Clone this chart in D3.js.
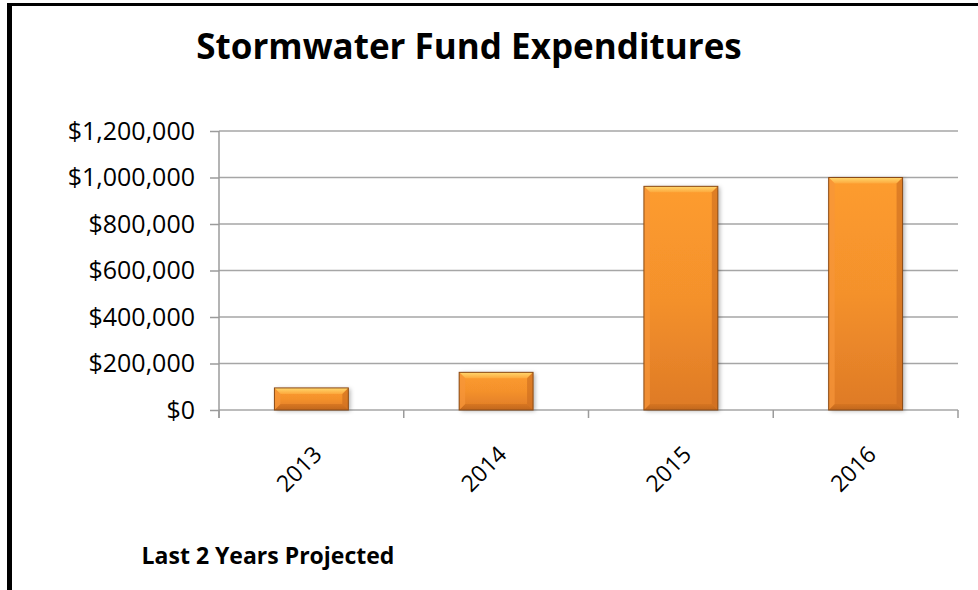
<!DOCTYPE html>
<html>
<head>
<meta charset="utf-8">
<script src="https://cdn.jsdelivr.net/npm/d3@7"></script>
<style>
  html, body { margin: 0; padding: 0; background: #fff; }
  svg { display: block; }
</style>
</head>
<body>
<svg id="chart" width="978" height="590"></svg>
<script>
// Stormwater fund expenditures by year (last two years projected)
const years = ["2013", "2014", "2015", "2016"];
const expenditures = [95000, 162000, 962000, 1000000];
const yTicks = [0, 200000, 400000, 600000, 800000, 1000000, 1200000];
const titleText = "Stormwater Fund Expenditures";
const noteText = "Last 2 Years Projected";

const svg = d3.select("#chart");
const W = 978, H = 590;
const plot = { left: 219, right: 958, top: 131, bottom: 410 };
const font = "'Open Sans', 'Noto Sans', sans-serif";

// Outer frame: thick left and top rules
svg.append("rect").attr("x", 7).attr("y", 3).attr("width", 5).attr("height", H - 3).attr("fill", "#000");
svg.append("rect").attr("x", 7).attr("y", 3).attr("width", W - 7).attr("height", 3).attr("fill", "#000");

const x = d3.scaleBand().domain(years).range([plot.left, plot.right]).paddingInner(0.6).paddingOuter(0.3);
const y = d3.scaleLinear().domain([0, 1200000]).range([plot.bottom, plot.top]);
const money = v => "$" + d3.format(",")(v);

const defs = svg.append("defs");
const grad = (id, stops) => {
  const g = defs.append("linearGradient").attr("id", id).attr("x1", 0).attr("y1", 0).attr("x2", 0).attr("y2", 1);
  stops.forEach(([o, c, a]) => g.append("stop").attr("offset", o).attr("stop-color", c).attr("stop-opacity", a == null ? 1 : a));
};
grad("barBody", [[0, "#FD9C2E"], [0.5, "#F4912C"], [1, "#DE7A26"]]);
grad("bevelTop", [[0, "#FFD86E"], [1, "#FDA83C"]]);
grad("bevelBottom", [[0, "#D4731F"], [1, "#B9621C"]]);
const shadow = defs.append("filter").attr("id", "barShadow").attr("x", "-20%").attr("y", "-20%").attr("width", "140%").attr("height", "140%");
shadow.append("feDropShadow").attr("dx", 2).attr("dy", 1).attr("stdDeviation", 2).attr("flood-color", "#000").attr("flood-opacity", 0.3);

// Gridlines and value axis
const yAxis = d3.axisLeft(y).tickValues(yTicks).tickFormat(money).tickSize(9).tickPadding(15);
const yg = svg.append("g").attr("transform", `translate(${plot.left},0)`).call(yAxis);
yg.select(".domain").remove();
yg.selectAll(".tick line").attr("stroke", "#9b9b9b").attr("stroke-width", 1.5);
yg.selectAll(".tick text").attr("font-family", font).attr("font-size", 25).attr("fill", "#000");

svg.append("g").selectAll("line").data(yTicks).join("line")
  .attr("x1", plot.left).attr("x2", plot.right)
  .attr("y1", d => y(d)).attr("y2", d => y(d))
  .attr("stroke", "#a6a6a6").attr("stroke-width", 1.5);

// Vertical value axis line
svg.append("line").attr("x1", plot.left).attr("x2", plot.left)
  .attr("y1", y(1200000)).attr("y2", plot.bottom + 8)
  .attr("stroke", "#9b9b9b").attr("stroke-width", 1.5);

// Category tick marks at band boundaries
const step = x.step();
const bounds = years.map((d, i) => plot.left + i * step).concat([plot.right]);
svg.append("g").selectAll("line").data(bounds).join("line")
  .attr("x1", d => d).attr("x2", d => d)
  .attr("y1", plot.bottom).attr("y2", plot.bottom + 8)
  .attr("stroke", "#9b9b9b").attr("stroke-width", 1.5);

// Bars with a bevelled edge
const bars = svg.append("g").selectAll("g").data(years.map((d, i) => ({ year: d, v: expenditures[i] }))).join("g");
bars.each(function (d) {
  const g = d3.select(this);
  const x0 = x(d.year), w = x.bandwidth();
  const x1 = x0 + w;
  const y0 = y(d.v), y1 = y(0);
  const b = Math.min(6, (y1 - y0) / 2);
  g.append("rect").attr("x", x0).attr("y", y0).attr("width", w).attr("height", y1 - y0)
    .attr("fill", "url(#barBody)").attr("filter", "url(#barShadow)");
  const poly = pts => pts.map(p => p.join(",")).join(" ");
  g.append("polygon").attr("points", poly([[x0, y0], [x1, y0], [x1 - b, y0 + b], [x0 + b, y0 + b]])).attr("fill", "url(#bevelTop)");
  g.append("polygon").attr("points", poly([[x0, y1], [x1, y1], [x1 - b, y1 - b], [x0 + b, y1 - b]])).attr("fill", "url(#bevelBottom)").attr("opacity", 0.8);
  g.append("polygon").attr("points", poly([[x0, y0], [x0 + b, y0 + b], [x0 + b, y1 - b], [x0, y1]])).attr("fill", "#F7963A").attr("opacity", 0.7);
  g.append("polygon").attr("points", poly([[x1, y0], [x1 - b, y0 + b], [x1 - b, y1 - b], [x1, y1]])).attr("fill", "#C96A1F").attr("opacity", 0.6);
  g.append("rect").attr("x", x0).attr("y", y0).attr("width", w).attr("height", y1 - y0)
    .attr("fill", "none").attr("stroke", "#8a4a16").attr("stroke-width", 1);
});

// Rotated year labels
svg.append("g").selectAll("text").data(years).join("text")
  .attr("transform", d => `translate(${x(d) + x.bandwidth() / 2 + 12},${plot.bottom + 46}) rotate(-45)`)
  .attr("text-anchor", "end")
  .attr("font-family", font).attr("font-size", 23).attr("fill", "#000")
  .text(d => d);

// Title and footnote
svg.append("text").attr("x", 469).attr("y", 59).attr("text-anchor", "middle")
  .attr("font-family", font).attr("font-weight", 700).attr("font-size", 35).attr("fill", "#000")
  .text(titleText);
svg.append("text").attr("x", 268).attr("y", 564).attr("text-anchor", "middle")
  .attr("font-family", font).attr("font-weight", 700).attr("font-size", 23).attr("fill", "#000")
  .text(noteText);
</script>
</body>
</html>
